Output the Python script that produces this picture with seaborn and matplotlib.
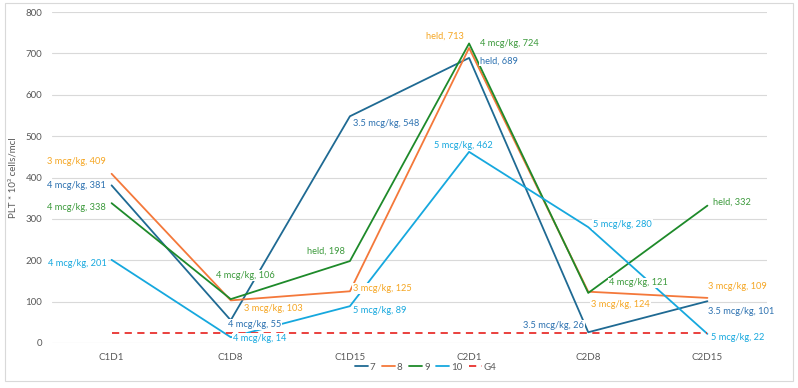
import pandas as pd
import numpy as np
import matplotlib
matplotlib.use('Agg')
import matplotlib.pyplot as plt
import seaborn as sns
from matplotlib.patches import Rectangle

# data
visits = ['C1D1', 'C1D8', 'C1D15', 'C2D1', 'C2D8', 'C2D15']
series_names = ['7', '8', '9', '10', 'G4']
plt_7 = [381, 55, 548, 689, 26, 101]
plt_8 = [409, 103, 125, 713, 124, 109]
plt_9 = [338, 106, 198, 724, 121, 332]
plt_10 = [201, 14, 89, 462, 280, 22]
g4 = [25, 25, 25, 25, 25, 25]
dose_7 = ['4 mcg/kg', '4 mcg/kg', '3.5 mcg/kg', 'held', '3.5 mcg/kg', '3.5 mcg/kg']
dose_8 = ['3 mcg/kg', '3 mcg/kg', '3 mcg/kg', 'held', '3 mcg/kg', '3 mcg/kg']
dose_9 = ['4 mcg/kg', '4 mcg/kg', 'held', '4 mcg/kg', '4 mcg/kg', 'held']
dose_10 = ['4 mcg/kg', '4 mcg/kg', '5 mcg/kg', '5 mcg/kg', '5 mcg/kg', '5 mcg/kg']

line_colors = {'7': '#1F6A93', '8': '#F4783A', '9': '#1E8A2A', '10': '#16A8DE', 'G4': '#E8322E'}
label_colors = {'7': '#2C71B0', '8': '#F5A623', '9': '#3C9A3C', '10': '#16A8DE'}

# label placement (ha, dx px, dy px) per point
place = {
    '7': [('right', -6, 0), ('left', -3, -4), ('left', 3, -7), ('left', 11, -3), ('right', -4, 7), ('left', 1, -10)],
    '8': [('right', -6, 12), ('left', 13, -8), ('left', 3, 3), ('right', -5, 12), ('left', 3, -13), ('left', 1, 11)],
    '9': [('right', -6, -4), ('center', 15, 24), ('right', -5, 10), ('left', 11, 0), ('left', 21, 10), ('left', 6, 3)],
    '10': [('right', -5, -4), ('left', 2, -1), ('left', 3, -4), ('center', -6, 6), ('left', 5, 3), ('left', 4, -4)],
}

values = {'7': plt_7, '8': plt_8, '9': plt_9, '10': plt_10, 'G4': g4}
doses = {'7': dose_7, '8': dose_8, '9': dose_9, '10': dose_10}

rows = []
for s in series_names:
    for i, v in enumerate(values[s]):
        rows.append({'pos': i, 'visit': visits[i], 'PLT': v, 'series': s})
df = pd.DataFrame(rows)

sns.set_style('white')
plt.rcParams['font.family'] = ['Lato', 'DejaVu Sans']

fig = plt.figure(figsize=(7.98, 3.88), dpi=100)
ax = fig.add_axes([52 / 798, 1 - 343 / 388, 715 / 798, 331 / 388])

sns.lineplot(data=df, x='pos', y='PLT', hue='series', style='series',
             hue_order=series_names, style_order=series_names,
             palette=line_colors,
             dashes={'7': '', '8': '', '9': '', '10': '', 'G4': (4, 3)},
             linewidth=1.3, ax=ax, legend=True)

for s in ['7', '8', '9', '10']:
    for i, v in enumerate(values[s]):
        ha, dx, dy = place[s][i]
        ax.annotate(f'{doses[s][i]}, {v}', xy=(i, v), xytext=(dx, dy),
                    textcoords='offset pixels', ha=ha, va='center',
                    fontsize=6.7, color=label_colors[s],
                    bbox=dict(boxstyle='square,pad=0.1', fc='white', ec='none'),
                    zorder=5)

ax.set_xlim(-0.5, 5.5)
ax.set_ylim(0, 800)
ax.set_yticks(np.arange(0, 801, 100))
ax.set_xticks(range(len(visits)))
ax.set_xticklabels(visits)
ax.tick_params(axis='both', length=0, labelsize=7, labelcolor='#595959')
ax.tick_params(axis='y', pad=7)
ax.tick_params(axis='x', pad=7)
ax.yaxis.grid(True, color='#D9D9D9', linewidth=0.8)
ax.set_axisbelow(True)
for sp in ax.spines.values():
    sp.set_visible(False)
ax.set_xlabel('')
ax.set_ylabel('PLT * 10³ cells/mcl', fontsize=7, color='#595959')
ax.yaxis.set_label_coords(-0.048, 0.5)

sns.move_legend(ax, 'center', bbox_to_anchor=(0.523, -0.073), ncol=5, frameon=False,
                title=None, fontsize=7, handlelength=1.3, handletextpad=0.2,
                columnspacing=0.7, labelcolor='#595959')

fig.add_artist(Rectangle((5 / 798, 7 / 388), 788 / 798, 378 / 388, transform=fig.transFigure,
                         fill=False, edgecolor='#D9D9D9', linewidth=0.8))

fig.savefig('out.png', dpi=100)
